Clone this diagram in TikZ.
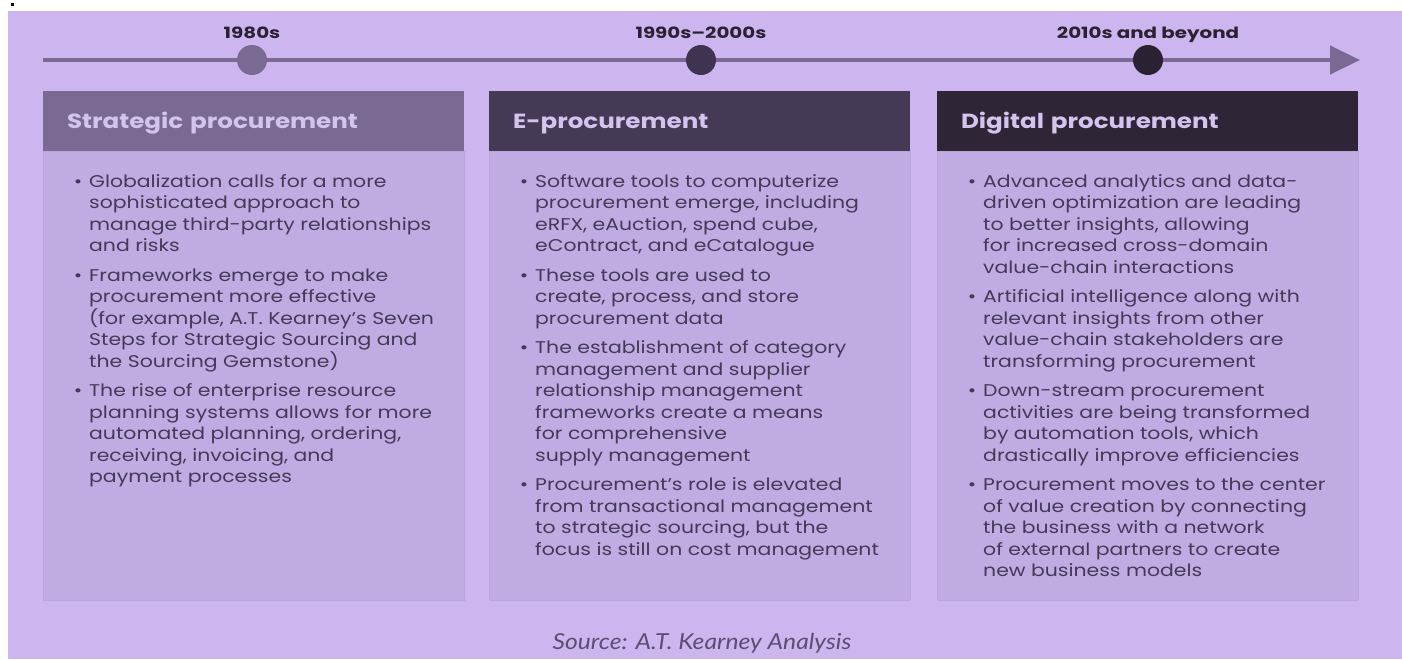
\documentclass[tikz,border=0pt]{standalone}
\usepackage{fontspec}
\setmainfont{Poppins}
\newfontfamily\widefont[FakeStretch=1.2]{Poppins}
\newfontfamily\yearfont[FakeStretch=1.28]{Poppins}
\newfontfamily\srcfont[FakeStretch=1.12]{Lato}
\usetikzlibrary{positioning}
\usetikzlibrary{arrows.meta}
\definecolor{backdrop}{HTML}{CDB5EF}
\definecolor{panel}{HTML}{C1ABE3}
\definecolor{paneledge}{HTML}{BBA4DC}
\definecolor{headA}{HTML}{7A6A93}
\definecolor{headB}{HTML}{453A55}
\definecolor{headC}{HTML}{2E2637}
\definecolor{dotA}{HTML}{7A6A93}
\definecolor{dotB}{HTML}{3E3350}
\definecolor{dotC}{HTML}{2A2232}
\definecolor{headtext}{HTML}{D3C4EF}
\definecolor{bodytext}{HTML}{443A58}
\definecolor{yeartext}{HTML}{2A2233}
\definecolor{sourcetext}{HTML}{5B4E72}
\tikzset{
	timeline/.style={
		draw=headA, line width=4.5pt,
		-{Triangle[length=30pt, width=28pt]}
	},
	dot/.style={circle, minimum size=30pt, inner sep=0pt},
	year/.style={
		inner sep=0pt, text depth=0pt, text=yeartext,
		font=\yearfont\fontsize{15.5}{18}\selectfont\bfseries
	},
	head/.style={
		anchor=north west, minimum height=60pt, text width=373pt,
		text height=15pt, text depth=1pt,
		inner xsep=24pt, inner ysep=0pt, outer sep=0pt, align=left, text=headtext,
		font=\widefont\fontsize{20.5}{24}\selectfont\bfseries
	},
	body/.style={
		minimum width=421pt, minimum height=449pt, inner sep=0pt, outer sep=0pt,
		fill=panel, draw=paneledge, line width=1pt
	},
	items/.style={
		inner sep=0pt, align=left, text=bodytext,
		font=\widefont\fontsize{17}{21.5}\selectfont
	}
}
\newcommand{\bul}{\llap{\rule{0pt}{14pt}\textbullet\hspace{7pt}}}
\newcommand{\era}[4] {
	\node[dot, fill=#3] (#1) at (#2,60) {};
	\node[year, above=6pt of #1] (#1y) {#4};
}
\newcommand{\phase}[5] {
	\node[head, fill=#3] (#1h) at (#2,91) {#4};
	\node[body, below=0pt of #1h] (#1b) {};
	\node[items, below right=22pt and 46pt of #1h.south west] (#1t) {#5};
}
\begin{document}
\begin{tikzpicture}[x=1pt, y=-1pt]
		\useasboundingbox (0,0) rectangle (1402,659);
		\fill[white] (0,0) rectangle (1402,659);
		\fill[backdrop] (8,11) rectangle (1402,659);
		\fill[black] (11,3) rectangle (14,6);

		% time axis
		\coordinate (tl start) at (43,60);
		\coordinate (tl end) at (1360,60);
		\draw[timeline] (tl start) -- (tl end);

		% eras on the axis
		\era{e1}{252}{dotA}{1980s}
		\era{e2}{701}{dotB}{1990s–2000s}
		\era{e3}{1148}{dotC}{2010s and beyond}

		% Strategic procurement
		\phase{p1}{43}{headA}{Strategic procurement}{%
			\bul Globalization calls for a more\\
			sophisticated approach to\\
			manage third-party relationships\\
			and risks\\[8pt]
			\bul Frameworks emerge to make\\
			procurement more effective\\
			(for example, A.T. Kearney’s Seven\\
			Steps for Strategic Sourcing and\\
			the Sourcing Gemstone)\\[8pt]
			\bul The rise of enterprise resource\\
			planning systems allows for more\\
			automated planning, ordering,\\
			receiving, invoicing, and\\
			payment processes}

		% E-procurement
		\phase{p2}{489}{headB}{E-procurement}{%
			\bul Software tools to computerize\\
			procurement emerge, including\\
			eRFX, eAuction, spend cube,\\
			eContract, and eCatalogue\\[8pt]
			\bul These tools are used to\\
			create, process, and store\\
			procurement data\\[8pt]
			\bul The establishment of category\\
			management and supplier\\
			relationship management\\
			frameworks create a means\\
			for comprehensive\\
			supply management\\[8pt]
			\bul Procurement’s role is elevated\\
			from transactional management\\
			to strategic sourcing, but the\\
			focus is still on cost management}

		% Digital procurement
		\phase{p3}{937}{headC}{Digital procurement}{%
			\bul Advanced analytics and data-\\
			driven optimization are leading\\
			to better insights, allowing\\
			for increased cross-domain\\
			value-chain interactions\\[8pt]
			\bul Artificial intelligence along with\\
			relevant insights from other\\
			value-chain stakeholders are\\
			transforming procurement\\[8pt]
			\bul Down-stream procurement\\
			activities are being transformed\\
			by automation tools, which\\
			drastically improve efficiencies\\[8pt]
			\bul Procurement moves to the center\\
			of value creation by connecting\\
			the business with a network\\
			of external partners to create\\
			new business models}

		% source line
		\node[text=sourcetext, font=\srcfont\itshape\fontsize{22}{26}\selectfont] (src) at (702,643) {Source: A.T. Kearney Analysis};
\end{tikzpicture}
\end{document}
